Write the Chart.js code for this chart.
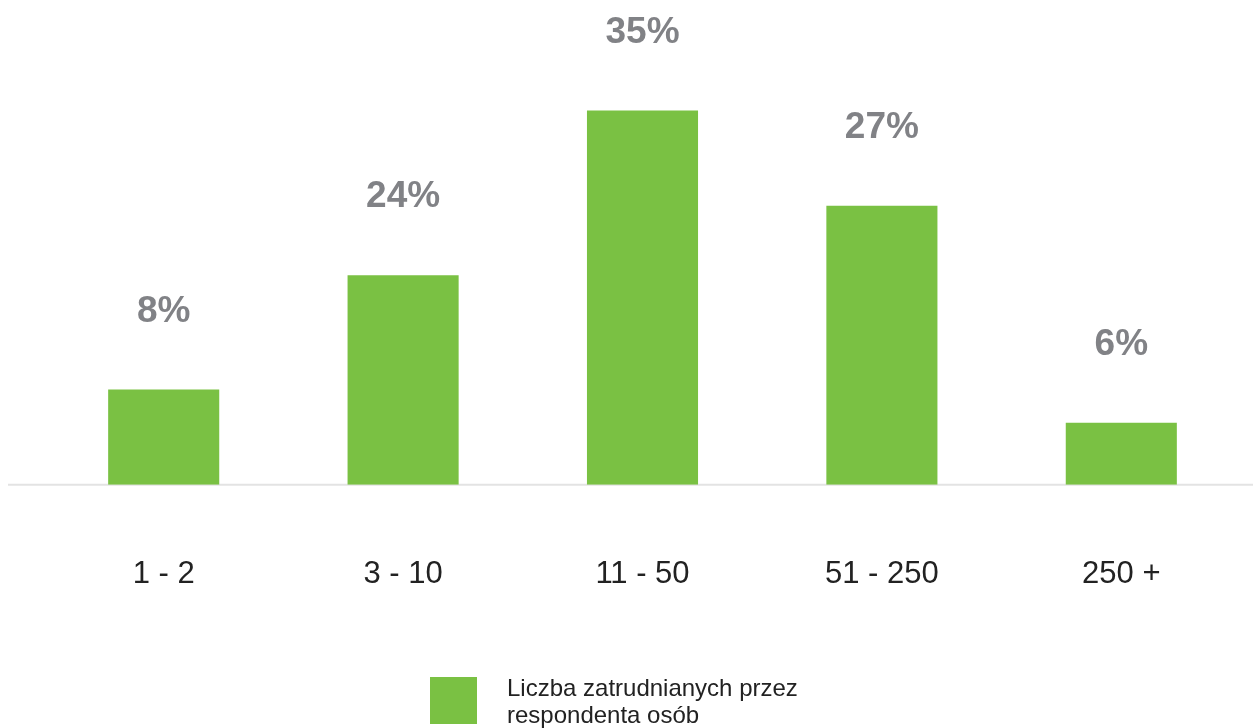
<!DOCTYPE html>
<html>
<head>
<meta charset="utf-8">
<script src="https://cdn.jsdelivr.net/npm/chart.js@4/dist/chart.umd.min.js"></script>
<style>
  html, body { margin: 0; padding: 0; background: #fff; }
  #wrap { width: 1253px; height: 728px; position: relative; }
</style>
</head>
<body>
<div id="wrap"><canvas id="grafico"></canvas></div>
<script>
// dane
const kategorie = ["1 - 2", "3 - 10", "11 - 50", "51 - 250", "250 +"];
const wartosci = [8.9, 19.6, 35, 26.1, 5.8];       // wysokosci slupkow
const etykiety = ["8%", "24%", "35%", "27%", "6%"]; // podpisy nad slupkami
const legenda = ["Liczba zatrudnianych przez", "respondenta osób"];

const ZIELONY = "#7ac143";

/* -------------------- PLUGINY -------------------- */
const liniaBazowa = {
    id: "liniaBazowa",
    beforeDatasetsDraw(chart) {
        const { ctx } = chart;
        const y = chart.scales.y.getPixelForValue(0);
        ctx.save();
        ctx.strokeStyle = "#e3e3e3";
        ctx.lineWidth = 2;
        ctx.beginPath();
        ctx.moveTo(8, y);
        ctx.lineTo(chart.width, y);
        ctx.stroke();
        ctx.restore();
    }
};

const podpisy = {
    id: "podpisy",
    afterDatasetsDraw(chart) {
        const { ctx } = chart;
        const meta = chart.getDatasetMeta(0);
        ctx.save();
        ctx.font = "bold 37px 'Liberation Sans', Arial, sans-serif";
        ctx.fillStyle = "#818286";
        ctx.textAlign = "center";
        ctx.textBaseline = "middle";
        meta.data.forEach((bar, i) => {
            ctx.fillText(etykiety[i], bar.x, bar.y - 78);
        });
        ctx.restore();
    }
};

const legendaWlasna = {
    id: "legendaWlasna",
    afterDraw(chart) {
        const { ctx } = chart;
        const kolor = chart.data.datasets[0].backgroundColor;
        ctx.save();
        ctx.fillStyle = kolor;
        ctx.fillRect(430, 677, 47, 47);
        ctx.font = "24px 'Liberation Sans', Arial, sans-serif";
        ctx.fillStyle = "#222";
        ctx.textAlign = "left";
        ctx.textBaseline = "alphabetic";
        legenda.forEach((linia, i) => {
            ctx.fillText(linia, 507, 696 + i * 27);
        });
        ctx.restore();
    }
};

/* -------------------- WYKRES -------------------- */
new Chart(document.getElementById("grafico"), {
    type: "bar",
    data: {
        labels: kategorie,
        datasets: [{
            label: legenda.join(" "),
            data: wartosci,
            backgroundColor: ZIELONY,
            barPercentage: 0.464,
            categoryPercentage: 1
        }]
    },
    options: {
        responsive: true,
        maintainAspectRatio: false,
        animation: false,
        layout: { padding: { left: 44, right: 12, top: 57, bottom: 72 } },
        plugins: {
            legend: { display: false },
            tooltip: { enabled: false }
        },
        scales: {
            x: {
                grid: { display: false },
                border: { display: false },
                ticks: {
                    color: "#222",
                    padding: 63,
                    font: { family: "'Liberation Sans', Arial, sans-serif", size: 31 }
                }
            },
            y: {
                display: false,
                min: 0,
                max: 40
            }
        }
    },
    plugins: [liniaBazowa, podpisy, legendaWlasna]
});
</script>
</body>
</html>
